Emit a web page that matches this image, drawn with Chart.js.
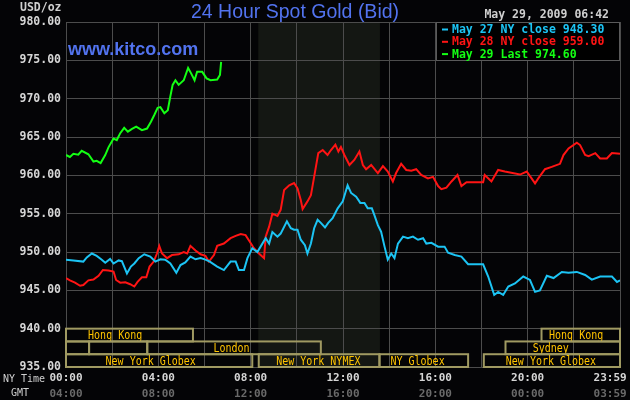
<!DOCTYPE html>
<html>
<head>
<meta charset="utf-8">
<title>24 Hour Spot Gold (Bid)</title>
<script src="https://cdn.jsdelivr.net/npm/chart.js@4.4.1/dist/chart.umd.min.js"></script>
<style>
  body { margin: 0; background: #040406; }
  canvas { display: block; }
</style>
</head>
<body>
<canvas id="goldChart" width="630" height="400"></canvas>
<script>
// hours since 00:00 NY time, price in USD/oz
const may27Times = [0, 0.32, 0.75, 0.9, 1.12, 1.33, 1.55, 1.7, 1.91, 2.06, 2.28, 2.42, 2.64, 2.81, 2.96, 3.15, 3.39, 3.65, 3.87, 4.09, 4.3, 4.52, 4.78, 4.96, 5.17, 5.39, 5.61, 5.83, 6.04, 6.23, 6.55, 6.84, 7.13, 7.35, 7.49, 7.71, 7.86, 8.07, 8.29, 8.43, 8.65, 8.8, 8.94, 9.16, 9.3, 9.57, 9.74, 9.88, 10.03, 10.17, 10.35, 10.46, 10.61, 10.75, 10.9, 11.04, 11.22, 11.36, 11.55, 11.77, 11.99, 12.2, 12.35, 12.57, 12.75, 12.93, 13.07, 13.25, 13.36, 13.51, 13.65, 13.8, 13.94, 14.09, 14.23, 14.38, 14.6, 14.81, 15.03, 15.25, 15.47, 15.61, 15.83, 16.12, 16.4, 16.55, 16.84, 17.13, 17.42, 18.07, 18.29, 18.55, 18.72, 18.94, 19.16, 19.45, 19.81, 20.1, 20.32, 20.53, 20.83, 21.12, 21.48, 21.77, 22.13, 22.49, 22.78, 23.14, 23.65, 23.87, 24];
const may27Values = [949.0, 948.9, 948.75, 949.3, 949.8, 949.5, 949.0, 948.6, 949.1, 948.5, 948.9, 948.8, 947.2, 948.1, 948.5, 949.2, 949.7, 949.4, 948.75, 949.05, 949.0, 948.5, 947.3, 948.3, 948.65, 949.4, 949.05, 949.2, 949.0, 948.75, 948.1, 947.65, 948.75, 948.75, 947.65, 947.65, 949.2, 950.5, 950.0, 950.7, 951.8, 951.1, 952.6, 952.0, 952.4, 954.0, 953.1, 952.9, 952.9, 951.6, 950.9, 949.8, 951.1, 953.1, 954.2, 953.8, 953.2, 953.8, 954.4, 955.7, 956.6, 958.7, 957.7, 957.2, 956.4, 956.4, 955.7, 955.7, 954.8, 953.5, 952.65, 950.7, 949.0, 949.8, 949.2, 951.1, 952.0, 951.8, 952.0, 951.6, 951.8, 951.1, 951.2, 950.7, 950.7, 949.9, 949.6, 949.4, 948.4, 948.4, 946.8, 944.4, 944.8, 944.4, 945.5, 945.9, 946.8, 946.35, 944.8, 945.0, 946.9, 946.6, 947.4, 947.3, 947.4, 947.0, 946.4, 946.8, 946.8, 946.1, 946.3];

const may28Times = [0, 0.17, 0.39, 0.61, 0.75, 0.97, 1.19, 1.41, 1.6, 1.84, 2.06, 2.17, 2.35, 2.57, 2.78, 2.96, 3.1, 3.29, 3.48, 3.62, 3.8, 3.94, 4.04, 4.16, 4.38, 4.59, 4.88, 5.1, 5.25, 5.39, 5.61, 5.83, 6.04, 6.19, 6.41, 6.55, 6.84, 7.13, 7.35, 7.57, 7.78, 7.97, 8.14, 8.36, 8.58, 8.65, 8.8, 8.94, 9.16, 9.3, 9.45, 9.67, 9.88, 10.03, 10.17, 10.25, 10.46, 10.61, 10.75, 10.93, 11.12, 11.33, 11.48, 11.67, 11.8, 11.91, 12.06, 12.28, 12.49, 12.71, 12.86, 13.0, 13.22, 13.51, 13.73, 13.94, 14.16, 14.3, 14.52, 14.74, 14.96, 15.17, 15.39, 15.68, 15.9, 16.12, 16.26, 16.48, 16.7, 16.96, 17.13, 17.35, 18.07, 18.14, 18.43, 18.72, 19.01, 19.67, 19.96, 20.17, 20.32, 20.46, 20.75, 21.04, 21.4, 21.55, 21.77, 22.13, 22.27, 22.49, 22.64, 22.93, 23.14, 23.43, 23.65, 24];
const may28Values = [946.6, 946.3, 946.0, 945.6, 945.7, 946.3, 946.4, 946.9, 947.65, 947.6, 947.45, 946.35, 946.0, 946.05, 945.8, 945.5, 946.1, 946.7, 946.7, 948.1, 948.75, 949.8, 950.8, 949.8, 949.2, 949.6, 949.7, 950.0, 949.8, 950.8, 950.2, 949.7, 949.5, 948.75, 949.6, 950.8, 951.1, 951.8, 952.1, 952.35, 952.2, 951.3, 950.5, 949.8, 949.2, 952.0, 953.3, 955.0, 954.7, 955.5, 958.1, 958.7, 959.0, 958.3, 956.8, 955.6, 956.6, 957.4, 959.8, 962.9, 963.3, 962.65, 963.3, 964.0, 963.1, 963.7, 962.65, 961.35, 962.0, 963.1, 961.35, 960.8, 961.35, 960.3, 961.2, 960.5, 959.2, 960.3, 961.5, 960.7, 960.6, 960.8, 960.05, 959.6, 959.8, 958.6, 958.2, 958.4, 959.2, 960.05, 958.6, 959.1, 959.1, 960.05, 959.2, 960.7, 960.5, 960.1, 960.5, 959.6, 958.95, 959.6, 960.8, 961.1, 961.5, 962.65, 963.5, 964.25, 963.95, 962.65, 962.5, 962.9, 962.2, 962.2, 962.9, 962.8];

const may29Times = [0, 0.17, 0.32, 0.53, 0.68, 0.97, 1.19, 1.33, 1.5, 1.7, 1.84, 2.06, 2.2, 2.35, 2.52, 2.68, 2.86, 3.04, 3.29, 3.51, 3.68, 3.83, 3.97, 4.09, 4.26, 4.41, 4.52, 4.62, 4.74, 4.88, 5.1, 5.29, 5.42, 5.57, 5.68, 5.9, 6.09, 6.26, 6.55, 6.67, 6.72];
const may29Values = [962.65, 962.4, 962.8, 962.7, 963.2, 962.75, 961.8, 961.9, 961.6, 962.65, 963.65, 964.8, 964.6, 965.5, 966.2, 965.7, 966.05, 966.35, 965.9, 966.1, 967.0, 967.9, 968.8, 968.9, 968.1, 968.5, 970.3, 971.8, 972.4, 971.8, 972.4, 974.0, 973.3, 972.4, 973.5, 973.5, 972.65, 972.4, 972.5, 973.1, 974.8];

const seriesLabels = ['May 27 NY close 948.30', 'May 28 NY close 959.00', 'May 29 Last 974.60'];

const nyTickLabels = ['00:00', '04:00', '08:00', '12:00', '16:00', '20:00', '23:59'];
const gmtTickLabels = ['04:00', '08:00', '12:00', '16:00', '20:00', '00:00', '03:59'];

// market sessions drawn in the three rows under 940
const sessionRows = [0, 0, 1, 1, 1, 1, 2, 2, 2, 2];
const sessionStarts = [0, 20.6, 0, 1, 3.52, 19.04, 0, 8.35, 13.58, 18.1];
const sessionEnds = [5.5, 24, 1, 3.52, 11.04, 24, 8.07, 13.58, 17.42, 24];
const sessionNames = ['Hong Kong', 'Hong Kong', '', '', 'London', 'Sydney', 'New York Globex', 'New York NYMEX', 'NY Globex', 'New York Globex'];
const sessionTextAt = [2.13, 22.1, 0, 0, 7.17, 21.0, 3.67, 10.93, 15.23, 21.01];

// NYMEX pit hours, shaded
const pitStart = 8.33;
const pitEnd = 13.6;

const MONO = '"DejaVu Sans Mono", monospace';
const GRID = '#4c4c4c';

function toPoints(times, values) {
  return times.map((t, i) => ({ x: t, y: values[i] }));
}

const backdrop = {
  id: 'backdrop',
  beforeDraw(chart) {
    const ctx = chart.ctx;
    const a = chart.chartArea;
    const x = chart.scales.x;
    ctx.save();
    ctx.fillStyle = '#040406';
    ctx.fillRect(0, 0, chart.width, chart.height);
    ctx.fillStyle = '#141713';
    const x0 = x.getPixelForValue(pitStart);
    const x1 = x.getPixelForValue(pitEnd);
    ctx.fillRect(x0, a.top, x1 - x0, a.bottom - a.top);
    ctx.restore();
  }
};

const decorations = {
  id: 'decorations',
  afterDraw(chart) {
    const ctx = chart.ctx;
    const x = chart.scales.x;
    const y = chart.scales.y;
    ctx.save();

    // session boxes
    ctx.strokeStyle = '#a09a62';
    ctx.lineWidth = 2;
    ctx.font = '10px ' + MONO;
    ctx.textAlign = 'center';
    ctx.textBaseline = 'middle';
    for (let i = 0; i < sessionRows.length; i++) {
      const topV = 940 - sessionRows[i] * 5 / 3;
      const yt = y.getPixelForValue(topV);
      const yb = y.getPixelForValue(topV - 5 / 3);
      const xl = x.getPixelForValue(sessionStarts[i]);
      const xr = x.getPixelForValue(sessionEnds[i]);
      ctx.strokeRect(xl, yt, xr - xl, yb - yt);
      if (sessionNames[i]) {
        ctx.fillStyle = '#ffc400';
        ctx.save();
        ctx.translate(x.getPixelForValue(sessionTextAt[i]), (yt + yb) / 2 + 1);
        ctx.scale(1, 1.2);
        ctx.fillText(sessionNames[i], 0, 0);
        ctx.restore();
      }
    }

    // legend box
    ctx.fillStyle = '#000000';
    ctx.fillRect(436, 22, 184, 39);
    ctx.strokeStyle = '#5a5a5a';
    ctx.lineWidth = 1;
    ctx.strokeRect(436.5, 22.5, 183, 38);
    ctx.font = 'bold 11.5px ' + MONO;
    ctx.textAlign = 'left';
    chart.data.datasets.forEach((ds, i) => {
      const ly = 29.5 + i * 12.3;
      ctx.fillStyle = ds.borderColor;
      ctx.fillRect(442, ly - 1, 6, 2);
      ctx.fillText(ds.label, 452, ly + 0.5);
    });

    // header texts
    ctx.fillStyle = '#5273ef';
    ctx.font = '19.5px "Liberation Sans", Arial, sans-serif';
    ctx.textAlign = 'center';
    ctx.textBaseline = 'alphabetic';
    ctx.fillText('24 Hour Spot Gold (Bid)', 295, 17.5);
    ctx.font = 'bold 18px "Liberation Sans", Arial, sans-serif';
    ctx.textAlign = 'left';
    ctx.fillText('www.kitco.com', 68, 55);

    ctx.fillStyle = '#cfcfcf';
    ctx.font = 'bold 11.5px ' + MONO;
    ctx.textBaseline = 'middle';
    ctx.fillText('USD/oz', 20, 8);
    ctx.textAlign = 'right';
    ctx.fillText('May 29, 2009 06:42', 609, 15.5);

    ctx.font = '10px ' + MONO;
    ctx.textAlign = 'left';
    ctx.fillText('NY Time', 3, 379);
    ctx.textAlign = 'center';
    ctx.fillText('GMT', 20, 393);
    ctx.restore();
  }
};

const config = {
  type: 'line',
  data: {
    datasets: [
      {
        label: seriesLabels[0],
        data: toPoints(may27Times, may27Values),
        borderColor: '#1cc4f4'
      },
      {
        label: seriesLabels[1],
        data: toPoints(may28Times, may28Values),
        borderColor: '#ff1414'
      },
      {
        label: seriesLabels[2],
        data: toPoints(may29Times, may29Values),
        borderColor: '#14ff14'
      }
    ]
  },
  options: {
    responsive: false,
    animation: false,
    layout: { padding: { top: 22, right: 10, left: 0, bottom: 0 } },
    elements: {
      line: { borderWidth: 2, tension: 0 },
      point: { radius: 0 }
    },
    plugins: {
      legend: { display: false },
      tooltip: { enabled: false }
    },
    scales: {
      x: {
        type: 'linear',
        position: 'bottom',
        min: 0,
        max: 24,
        grid: { color: GRID, drawTicks: false },
        border: { color: GRID },
        ticks: {
          stepSize: 2,
          autoSkip: false,
          maxRotation: 0,
          padding: 5,
          color: '#d6d6d6',
          font: { family: MONO, size: 11, weight: 'bold' },
          callback: v => v % 4 === 0 ? (v === 24 ? nyTickLabels[v / 4] + '   ' : nyTickLabels[v / 4]) : ''
        },
        afterFit: s => { s.height = 18; s.paddingLeft = 0; s.paddingRight = 0; }
      },
      x2: {
        type: 'linear',
        position: 'bottom',
        min: 0,
        max: 24,
        grid: { display: false, drawTicks: false },
        border: { display: false },
        ticks: {
          stepSize: 4,
          autoSkip: false,
          maxRotation: 0,
          padding: 3,
          color: '#6a6a6a',
          font: { family: MONO, size: 11, weight: 'bold' },
          callback: v => v === 24 ? gmtTickLabels[v / 4] + '   ' : gmtTickLabels[v / 4]
        },
        afterFit: s => { s.height = 15; s.paddingLeft = 0; s.paddingRight = 0; }
      },
      y: {
        min: 935,
        max: 980,
        grid: { color: GRID, drawTicks: false },
        border: { color: GRID },
        ticks: {
          stepSize: 5,
          padding: 5,
          color: '#d6d6d6',
          font: { family: MONO, size: 11.5, weight: 'bold' },
          callback: v => v.toFixed(2)
        },
        afterFit: s => { s.width = 66; }
      }
    }
  },
  plugins: [backdrop, decorations]
};

const goldChart = new Chart(document.getElementById('goldChart'), config);
</script>
</body>
</html>
